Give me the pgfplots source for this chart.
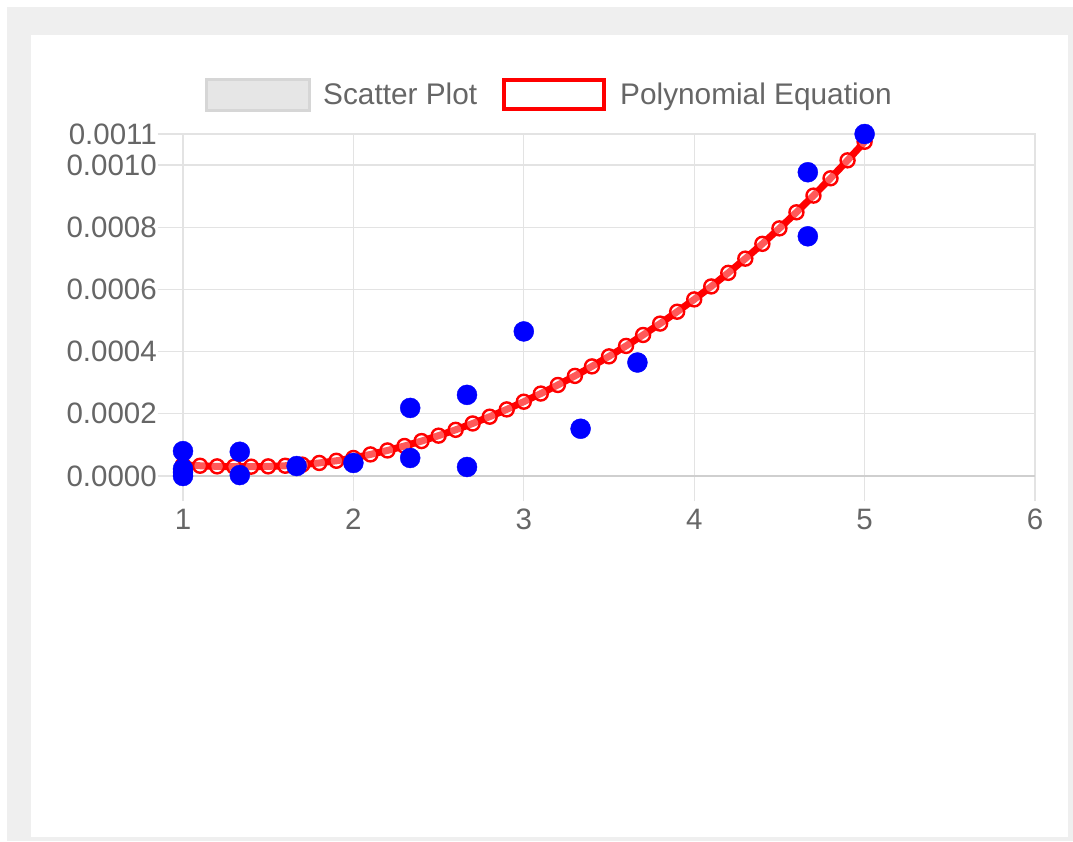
\documentclass[border=0pt]{standalone}
\usepackage{pgfplots}
\pgfplotsset{compat=1.18}
\usepackage{fontspec}
\setmainfont{Liberation Sans}
\definecolor{txt}{HTML}{666666}
\definecolor{gridc}{HTML}{E3E3E3}
\definecolor{zeroc}{HTML}{CFCFCF}
\definecolor{outer}{HTML}{EFEFEF}
\definecolor{legfill}{HTML}{E6E6E6}
\definecolor{legdraw}{HTML}{D6D6D6}
\begin{document}
\begin{tikzpicture}[x=1pt,y=1pt]
\useasboundingbox (0,0) rectangle (1073,-841);
\fill[white] (0,0) rectangle (1073,-841);
\fill[outer] (7,-7) rectangle (1073,-841);
\fill[white] (31,-35) rectangle (1068,-837);
% legend
\draw[draw=legdraw, fill=legfill, line width=3pt] (206.5,-79.5) rectangle (309.5,-110.5);
\node[anchor=base west, inner sep=0pt, text=txt, font=\fontsize{29.8}{34}\selectfont] at (323,-104) {Scatter Plot};
\draw[draw=red, fill=white, line width=4pt] (504,-80) rectangle (604,-109);
\node[anchor=base west, inner sep=0pt, text=txt, font=\fontsize{29.8}{34}\selectfont] at (620,-104) {Polynomial Equation};
\begin{axis}[
  at={(183pt,-476pt)}, anchor=south west,
  scale only axis, width=852pt, height=342pt,
  xmin=1, xmax=6, ymin=0, ymax=0.0011,
  xtick={1,2,3,4,5,6},
  xticklabels={1,2,3,4,5,6},
  ytick={0,0.0002,0.0004,0.0006,0.0008,0.001,0.0011},
  yticklabels={0.0000,0.0002,0.0004,0.0006,0.0008,0.0010,0.0011},
  scaled y ticks=false,
  grid=major,
  major grid style={draw=gridc, line width=1.2pt},
  axis line style={draw=gridc, line width=1.2pt},
  tick align=outside,
  xtick pos=bottom, ytick pos=left,
  major tick length=25pt,
  major tick style={draw=gridc, line width=1.2pt},
  tick label style={text=txt, font=\fontsize{29.5}{34}\selectfont},
  yticklabel style={inner sep=1pt},
  xticklabel style={inner sep=2pt, yshift=-6pt},
  clip=false,
]
\draw[zeroc, line width=1.4pt] (axis cs:1,0) -- (axis cs:6,0);
\addplot[red, line width=7pt, mark=*, mark size=7pt,
  mark options={draw=red, fill=white, fill opacity=0.35, line width=2.4pt}]
 coordinates {
(1.0,0.000036) (1.1,0.000033) (1.2,0.000031) (1.3,0.000030) (1.4,0.000030)
(1.5,0.000031) (1.6,0.000033) (1.7,0.0000365) (1.8,0.000042) (1.9,0.000049)
(2.0,0.000058) (2.1,0.0000694) (2.2,0.0000822) (2.3,0.0000966) (2.4,0.0001124)
(2.5,0.0001298) (2.6,0.0001486) (2.7,0.000169) (2.8,0.0001908) (2.9,0.0002142)
(3.0,0.000239) (3.1,0.0002652) (3.2,0.0002928) (3.3,0.000322) (3.4,0.0003526)
(3.5,0.0003848) (3.6,0.0004184) (3.7,0.0004536) (3.8,0.0004902) (3.9,0.0005284)
(4.0,0.000568) (4.1,0.0006097) (4.2,0.0006534) (4.3,0.0006991) (4.4,0.0007468)
(4.5,0.0007965) (4.6,0.0008482) (4.7,0.0009019) (4.8,0.0009576) (4.9,0.0010153)
(5.0,0.001075)
};
\addplot[only marks, mark=*, mark size=10pt, draw=blue, fill=blue, mark options={draw=blue, fill=blue}]
 coordinates {
(1,0.000080) (1,0.000023) (1,0.000000) (1,0.000012)
(1.3333,0.000078) (1.3333,0.000003)
(1.6667,0.000032) (2,0.000042)
(2.3333,0.000219) (2.3333,0.000058)
(2.6667,0.000261) (2.6667,0.000029)
(3,0.000465) (3.3333,0.000152) (3.6667,0.000365)
(4.6667,0.000977) (4.6667,0.000771)
(5,0.0011)
};
\end{axis}
\end{tikzpicture}
\end{document}
